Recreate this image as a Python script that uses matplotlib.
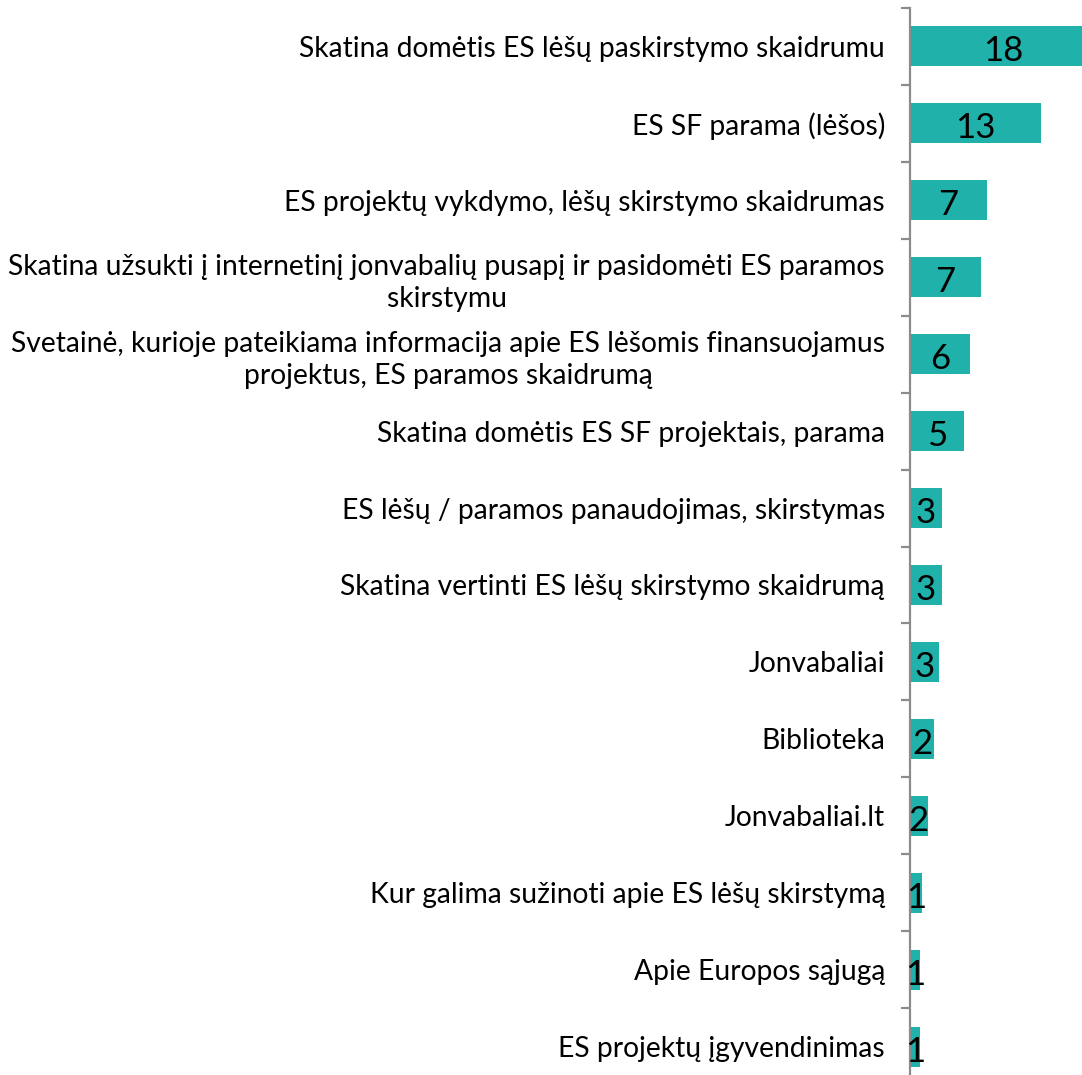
import numpy as np
import matplotlib.pyplot as plt
from matplotlib.transforms import offset_copy

categories = [
    "Skatina domėtis ES lėšų paskirstymo skaidrumu",
    "ES SF parama (lėšos)",
    "ES projektų vykdymo, lėšų skirstymo skaidrumas",
    "Skatina užsukti į internetinį jonvabalių pusapį ir pasidomėti ES paramos\nskirstymu",
    "Svetainė, kurioje pateikiama informacija apie ES lėšomis finansuojamus\nprojektus, ES paramos skaidrumą",
    "Skatina domėtis ES SF projektais, parama",
    "ES lėšų / paramos panaudojimas, skirstymas",
    "Skatina vertinti ES lėšų skirstymo skaidrumą",
    "Jonvabaliai",
    "Biblioteka",
    "Jonvabaliai.lt",
    "Kur galima sužinoti apie ES lėšų skirstymą",
    "Apie Europos sąjugą",
    "ES projektų įgyvendinimas",
]
values = [18.0, 12.6, 7.4, 6.8, 5.8, 5.2, 3.1, 3.1, 2.8, 2.3, 1.7, 1.2, 1.0, 1.0]

plt.rcParams['font.family'] = ['Lato', 'DejaVu Sans']

fig = plt.figure(figsize=(10.82, 10.75), dpi=100, facecolor="w")
ax = fig.add_axes([910 / 1082, -10 / 1075, 172 / 1082, 1077 / 1075])

y = np.arange(len(categories))
ax.barh(y, values, height=0.52, color="#20B2AA")
# numbers sit a little below the bar middle
lower = offset_copy(ax.transData, fig=fig, x=0, y=-5, units="dots")
for yi, v in zip(y, values):
    ax.text(v / 2, yi, "%.0f" % v, ha="center", va="center", fontsize=25,
            color="black", transform=lower)

ax.set_xlim(0, 172 / 10.4)
ax.set_ylim(len(categories) - 0.5, -0.5)

for s in ["top", "right", "bottom"]:
    ax.spines[s].set_visible(False)
ax.spines["left"].set_color("#8c8c8c")
ax.spines["left"].set_linewidth(1.6)

ax.set_xticks([])
ax.set_yticks(y)
ax.set_yticklabels(categories, fontsize=20.3, multialignment="center", linespacing=1.3)
ax.set_yticks(np.arange(len(categories) + 1) - 0.5, minor=True)
ax.tick_params(axis="y", which="major", length=0, pad=18)
ax.tick_params(axis="y", which="minor", length=6.5, width=1.6, color="#8c8c8c", direction="out")

fig.savefig("out.png", dpi=100)
